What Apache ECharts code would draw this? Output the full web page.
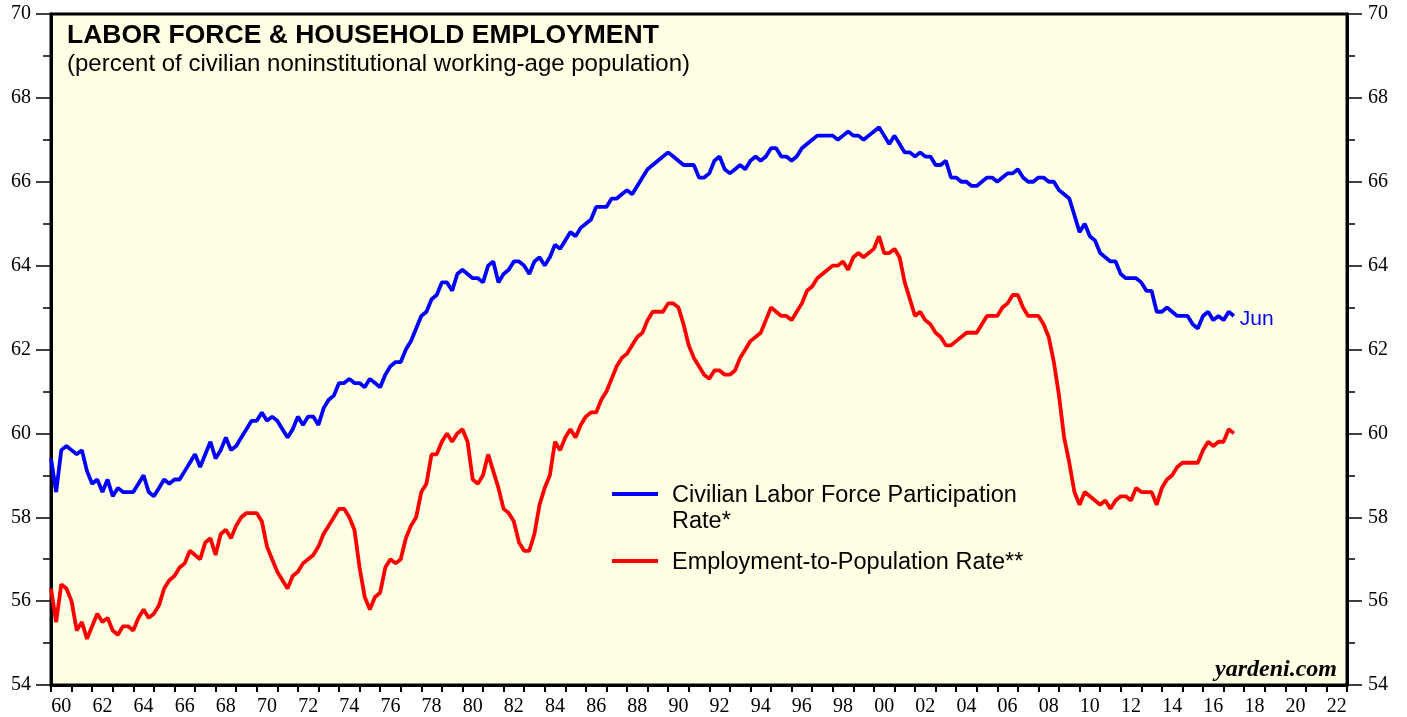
<!DOCTYPE html>
<html>
<head>
<meta charset="utf-8">
<title>Labor Force & Household Employment</title>
<script src="https://cdn.jsdelivr.net/npm/echarts@6/dist/echarts.min.js"></script>
<style>
  html, body { margin: 0; padding: 0; background: #fff; }
  #chart { width: 1407px; height: 717px; }
</style>
</head>
<body>
<div id="chart"></div>
<script>
// quarterly readings, first point = 1960 Q1, last = 2017 (Jun)
const startYear = 1960;
const step = 0.25;

// Civilian Labor Force Participation Rate (%)
const lfpr = [
  59.4, 58.6, 59.6, 59.7,   // 1960
  59.6, 59.5, 59.6, 59.1,   // 1961
  58.8, 58.9, 58.6, 58.9,   // 1962
  58.5, 58.7, 58.6, 58.6,   // 1963
  58.6, 58.8, 59.0, 58.6,   // 1964
  58.5, 58.7, 58.9, 58.8,   // 1965
  58.9, 58.9, 59.1, 59.3,   // 1966
  59.5, 59.2, 59.5, 59.8,   // 1967
  59.4, 59.6, 59.9, 59.6,   // 1968
  59.7, 59.9, 60.1, 60.3,   // 1969
  60.3, 60.5, 60.3, 60.4,   // 1970
  60.3, 60.1, 59.9, 60.1,   // 1971
  60.4, 60.2, 60.4, 60.4,   // 1972
  60.2, 60.6, 60.8, 60.9,   // 1973
  61.2, 61.2, 61.3, 61.2,   // 1974
  61.2, 61.1, 61.3, 61.2,   // 1975
  61.1, 61.4, 61.6, 61.7,   // 1976
  61.7, 62.0, 62.2, 62.5,   // 1977
  62.8, 62.9, 63.2, 63.3,   // 1978
  63.6, 63.6, 63.4, 63.8,   // 1979
  63.9, 63.8, 63.7, 63.7,   // 1980
  63.6, 64.0, 64.1, 63.6,   // 1981
  63.8, 63.9, 64.1, 64.1,   // 1982
  64.0, 63.8, 64.1, 64.2,   // 1983
  64.0, 64.2, 64.5, 64.4,   // 1984
  64.6, 64.8, 64.7, 64.9,   // 1985
  65.0, 65.1, 65.4, 65.4,   // 1986
  65.4, 65.6, 65.6, 65.7,   // 1987
  65.8, 65.7, 65.9, 66.1,   // 1988
  66.3, 66.4, 66.5, 66.6,   // 1989
  66.7, 66.6, 66.5, 66.4,   // 1990
  66.4, 66.4, 66.1, 66.1,   // 1991
  66.2, 66.5, 66.6, 66.3,   // 1992
  66.2, 66.3, 66.4, 66.3,   // 1993
  66.5, 66.6, 66.5, 66.6,   // 1994
  66.8, 66.8, 66.6, 66.6,   // 1995
  66.5, 66.6, 66.8, 66.9,   // 1996
  67.0, 67.1, 67.1, 67.1,   // 1997
  67.1, 67.0, 67.1, 67.2,   // 1998
  67.1, 67.1, 67.0, 67.1,   // 1999
  67.2, 67.3, 67.1, 66.9,   // 2000
  67.1, 66.9, 66.7, 66.7,   // 2001
  66.6, 66.7, 66.6, 66.6,   // 2002
  66.4, 66.4, 66.5, 66.1,   // 2003
  66.1, 66.0, 66.0, 65.9,   // 2004
  65.9, 66.0, 66.1, 66.1,   // 2005
  66.0, 66.1, 66.2, 66.2,   // 2006
  66.3, 66.1, 66.0, 66.0,   // 2007
  66.1, 66.1, 66.0, 66.0,   // 2008
  65.8, 65.7, 65.6, 65.2,   // 2009
  64.8, 65.0, 64.7, 64.6,   // 2010
  64.3, 64.2, 64.1, 64.1,   // 2011
  63.8, 63.7, 63.7, 63.7,   // 2012
  63.6, 63.4, 63.4, 62.9,   // 2013
  62.9, 63.0, 62.9, 62.8,   // 2014
  62.8, 62.8, 62.6, 62.5,   // 2015
  62.8, 62.9, 62.7, 62.8,   // 2016
  62.7, 62.9, 62.8          // 2017
];

// Employment-to-Population Rate (%)
const epop = [
  56.3, 55.5, 56.4, 56.3,   // 1960
  56.0, 55.3, 55.5, 55.1,   // 1961
  55.4, 55.7, 55.5, 55.6,   // 1962
  55.3, 55.2, 55.4, 55.4,   // 1963
  55.3, 55.6, 55.8, 55.6,   // 1964
  55.7, 55.9, 56.3, 56.5,   // 1965
  56.6, 56.8, 56.9, 57.2,   // 1966
  57.1, 57.0, 57.4, 57.5,   // 1967
  57.1, 57.6, 57.7, 57.5,   // 1968
  57.8, 58.0, 58.1, 58.1,   // 1969
  58.1, 57.9, 57.3, 57.0,   // 1970
  56.7, 56.5, 56.3, 56.6,   // 1971
  56.7, 56.9, 57.0, 57.1,   // 1972
  57.3, 57.6, 57.8, 58.0,   // 1973
  58.2, 58.2, 58.0, 57.7,   // 1974
  56.8, 56.1, 55.8, 56.1,   // 1975
  56.2, 56.8, 57.0, 56.9,   // 1976
  57.0, 57.5, 57.8, 58.0,   // 1977
  58.6, 58.8, 59.5, 59.5,   // 1978
  59.8, 60.0, 59.8, 60.0,   // 1979
  60.1, 59.8, 58.9, 58.8,   // 1980
  59.0, 59.5, 59.1, 58.7,   // 1981
  58.2, 58.1, 57.9, 57.4,   // 1982
  57.2, 57.2, 57.6, 58.3,   // 1983
  58.7, 59.0, 59.8, 59.6,   // 1984
  59.9, 60.1, 59.9, 60.2,   // 1985
  60.4, 60.5, 60.5, 60.8,   // 1986
  61.0, 61.3, 61.6, 61.8,   // 1987
  61.9, 62.1, 62.3, 62.4,   // 1988
  62.7, 62.9, 62.9, 62.9,   // 1989
  63.1, 63.1, 63.0, 62.6,   // 1990
  62.1, 61.8, 61.6, 61.4,   // 1991
  61.3, 61.5, 61.5, 61.4,   // 1992
  61.4, 61.5, 61.8, 62.0,   // 1993
  62.2, 62.3, 62.4, 62.7,   // 1994
  63.0, 62.9, 62.8, 62.8,   // 1995
  62.7, 62.9, 63.1, 63.4,   // 1996
  63.5, 63.7, 63.8, 63.9,   // 1997
  64.0, 64.0, 64.1, 63.9,   // 1998
  64.2, 64.3, 64.2, 64.3,   // 1999
  64.4, 64.7, 64.3, 64.3,   // 2000
  64.4, 64.2, 63.6, 63.2,   // 2001
  62.8, 62.9, 62.7, 62.6,   // 2002
  62.4, 62.3, 62.1, 62.1,   // 2003
  62.2, 62.3, 62.4, 62.4,   // 2004
  62.4, 62.6, 62.8, 62.8,   // 2005
  62.8, 63.0, 63.1, 63.3,   // 2006
  63.3, 63.0, 62.8, 62.8,   // 2007
  62.8, 62.6, 62.3, 61.7,   // 2008
  60.9, 59.9, 59.3, 58.6,   // 2009
  58.3, 58.6, 58.5, 58.4,   // 2010
  58.3, 58.4, 58.2, 58.4,   // 2011
  58.5, 58.5, 58.4, 58.7,   // 2012
  58.6, 58.6, 58.6, 58.3,   // 2013
  58.7, 58.9, 59.0, 59.2,   // 2014
  59.3, 59.3, 59.3, 59.3,   // 2015
  59.6, 59.8, 59.7, 59.8,   // 2016
  59.8, 60.1, 60.0          // 2017
];

// x axis: one tick per year, label every two years (centred on the year)
const yearLabels = ['60', '62', '64', '66', '68', '70', '72', '74', '76', '78',
  '80', '82', '84', '86', '88', '90', '92', '94', '96', '98',
  '00', '02', '04', '06', '08', '10', '12', '14', '16', '18', '20', '22'];
const xMin = 1960;
const xMax = 2023;

// y axis (same on both sides)
const yMin = 54;
const yMax = 70;
const yStep = 2;

const seriesNames = [
  'Civilian Labor Force Participation\nRate*',
  'Employment-to-Population Rate**'
];
const endLabelText = 'Jun';

const toPairs = (arr) => arr.map((v, i) => [startYear + i * step, v]);

const yearTicks = [];
for (let y = xMin; y <= xMax; y++) yearTicks.push(y);
const labelPos = yearLabels.map((s, i) => xMin + i * 2 + 0.5);

const serif = 'Liberation Serif, Times New Roman, serif';
const sans = 'Liberation Sans, Arial, Helvetica, sans-serif';

const chart = echarts.init(document.getElementById('chart'), null, { renderer: 'canvas' });

function yAxisOpt(pos) {
  return {
    type: 'value',
    position: pos,
    min: yMin,
    max: yMax,
    interval: yStep,
    axisLine: { show: true, lineStyle: { color: '#000', width: 3 } },
    axisTick: { show: true, inside: false, length: 15, lineStyle: { color: '#000', width: 1.5 } },
    minorTick: { show: true, splitNumber: 2, length: 8, lineStyle: { color: '#000', width: 1.5 } },
    axisLabel: { color: '#000', fontFamily: serif, fontSize: 20, margin: pos === 'left' ? 20 : 21 },
    splitLine: { show: false },
    minorSplitLine: { show: false }
  };
}

const option = {
  animation: false,
  backgroundColor: '#fff',
  grid: {
    left: 51,
    right: 60,
    top: 14,
    bottom: 31,
    show: true,
    backgroundColor: '#FFFFE4',
    borderColor: '#000',
    borderWidth: 3
  },
  xAxis: {
    type: 'value',
    min: xMin,
    max: xMax,
    axisLine: { show: true, onZero: false, lineStyle: { color: '#000', width: 3 } },
    axisTick: {
      show: true,
      customValues: yearTicks,
      length: 7,
      lineStyle: { color: '#000', width: 2 }
    },
    axisLabel: {
      customValues: labelPos,
      formatter: (v) => yearLabels[Math.round((v - 0.5 - xMin) / 2)],
      color: '#000',
      fontFamily: serif,
      fontSize: 20,
      margin: 12
    },
    splitLine: { show: false }
  },
  yAxis: [yAxisOpt('left'), yAxisOpt('right')],
  series: [
    {
      name: seriesNames[0],
      type: 'line',
      data: toPairs(lfpr),
      showSymbol: false,
      lineStyle: { color: '#0000FF', width: 3.8 },
      itemStyle: { color: '#0000FF' },
      endLabel: {
        show: true,
        formatter: endLabelText,
        color: '#0000FF',
        fontFamily: sans,
        fontSize: 21,
        distance: 6,
        offset: [0, 3]
      },
      z: 3
    },
    {
      name: seriesNames[1],
      type: 'line',
      data: toPairs(epop),
      showSymbol: false,
      lineStyle: { color: '#FF0000', width: 3.8 },
      itemStyle: { color: '#FF0000' },
      z: 2
    }
  ],
  graphic: [
    // title block
    {
      type: 'text', left: 67, top: 22, z: 10,
      style: { text: 'LABOR FORCE & HOUSEHOLD EMPLOYMENT', fill: '#000', font: 'bold 26.5px ' + sans }
    },
    {
      type: 'text', left: 67, top: 52, z: 10,
      style: { text: '(percent of civilian noninstitutional working-age population)', fill: '#000', font: '24px ' + sans }
    },
    // legend
    {
      type: 'line', z: 10,
      shape: { x1: 612, y1: 494, x2: 658, y2: 494 },
      style: { stroke: '#0000FF', lineWidth: 4 }
    },
    {
      type: 'text', left: 672, top: 483, z: 10,
      style: { text: seriesNames[0], fill: '#000', font: '23.5px ' + sans, lineHeight: 26 }
    },
    {
      type: 'line', z: 10,
      shape: { x1: 612, y1: 561, x2: 658, y2: 561 },
      style: { stroke: '#FF0000', lineWidth: 4 }
    },
    {
      type: 'text', left: 672, top: 550, z: 10,
      style: { text: seriesNames[1], fill: '#000', font: '23.5px ' + sans, lineHeight: 26 }
    },
    // source
    {
      type: 'text', right: 70, top: 658, z: 10,
      style: { text: 'yardeni.com', fill: '#000', font: 'italic bold 24px ' + serif }
    }
  ]
};

chart.setOption(option);
</script>
</body>
</html>
